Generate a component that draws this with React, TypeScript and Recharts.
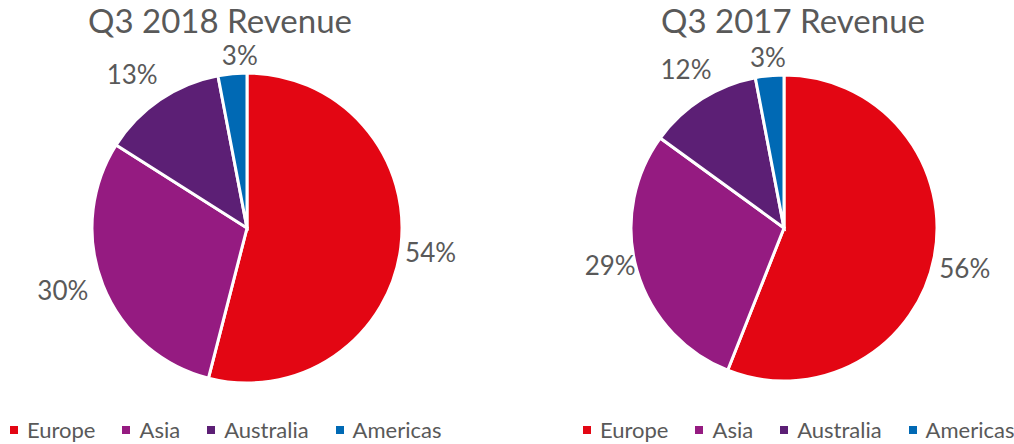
import { PieChart, Pie, Cell } from 'recharts';

const REGIONS = ['Europe', 'Asia', 'Australia', 'Americas'];
const COLORS = ['#e30613', '#951b81', '#5c1f75', '#0069b4'];
const Q3_2018 = [54, 30, 13, 3];
const Q3_2017 = [56, 29, 12, 3];
const TITLES = ['Q3 2018 Revenue', 'Q3 2017 Revenue'];

const FONT = 'Lato, "Open Sans", sans-serif';
const TEXT = '#595959';
const RADIAN = Math.PI / 180;

// small tweaks to move labels where Excel's best-fit put them
const NUDGE_2018 = [[2, 1], [-14, -5], [-12, -3], [10, 9]];
const NUDGE_2017 = [[3, 6], [0, -13], [-1, -6], [1, 9]];

const rows2018 = REGIONS.map((name, i) => ({ name, value: Q3_2018[i] }));
const rows2017 = REGIONS.map((name, i) => ({ name, value: Q3_2017[i] }));

const makeLabel = (nudge: number[][]) => (props: any) => {
  const { cx, cy, midAngle, outerRadius, value, index } = props;
  const r = outerRadius + 28;
  const x = cx + r * Math.cos(-midAngle * RADIAN) + nudge[index][0];
  const y = cy + r * Math.sin(-midAngle * RADIAN) + nudge[index][1];
  return (
    <text x={x} y={y} fill={TEXT} fontSize={26} fontFamily={FONT} textAnchor="middle" dominantBaseline="central">
      {`${value}%`}
    </text>
  );
};

const LegendRow = ({ left }: { left: number }) => (
  <div style={{ position: 'absolute', left, top: 416, display: 'flex', gap: 27, fontFamily: FONT, fontSize: 22, color: TEXT }}>
    {REGIONS.map((name, i) => (
      <div key={name} style={{ display: 'flex', alignItems: 'center', gap: 9 }}>
        <span style={{ width: 8, height: 8, background: COLORS[i], display: 'inline-block' }} />
        <span>{name}</span>
      </div>
    ))}
  </div>
);

const Title = ({ text, center }: { text: string; center: number }) => (
  <div style={{ position: 'absolute', left: center - 200, width: 400, top: 2, textAlign: 'center', fontFamily: FONT, fontSize: 33, color: TEXT, lineHeight: '36px' }}>
    {text}
  </div>
);

export default function App() {
  return (
    <div style={{ position: 'absolute', left: 0, top: 0, width: 1014, height: 444, background: '#fff' }}>
      <PieChart width={1014} height={444} margin={{ top: 0, right: 0, bottom: 0, left: 0 }}>
        <Pie data={rows2018} dataKey="value" nameKey="name" cx={247} cy={228} outerRadius={155}
          startAngle={90} endAngle={-270} stroke="#fff" strokeWidth={3}
          label={makeLabel(NUDGE_2018)} labelLine={false} isAnimationActive={false}>
          {rows2018.map((r, i) => <Cell key={r.name} fill={COLORS[i]} />)}
        </Pie>
        <Pie data={rows2017} dataKey="value" nameKey="name" cx={784} cy={228} outerRadius={153}
          startAngle={90} endAngle={-270} stroke="#fff" strokeWidth={3}
          label={makeLabel(NUDGE_2017)} labelLine={false} isAnimationActive={false}>
          {rows2017.map((r, i) => <Cell key={r.name} fill={COLORS[i]} />)}
        </Pie>
      </PieChart>
      <Title text={TITLES[0]} center={220} />
      <Title text={TITLES[1]} center={793} />
      <LegendRow left={10} />
      <LegendRow left={583} />
    </div>
  );
}
